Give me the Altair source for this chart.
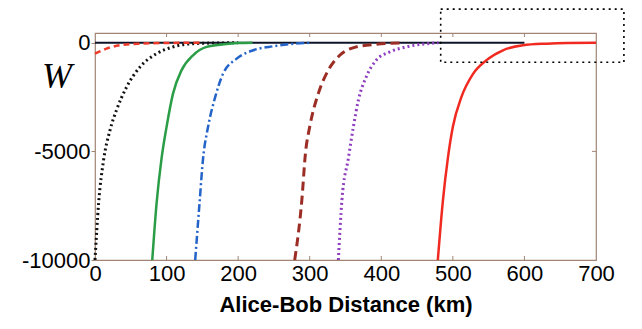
import altair as alt
import pandas as pd

# ---- data ----
rd_km = [0, 16, 35, 63, 100, 150]
rd_W = [-500, -270, -115, -40, -10, 0]

bk_km = [0, 5, 12, 21, 30, 44, 63, 86, 109, 137, 170, 200]
bk_W = [-10000, -7400, -5400, -4020, -3100, -2050, -1110, -500, -190, -40, -10, 0]

gr_km = [80, 86, 93, 100, 109, 121, 137, 156, 180, 200, 220]
gr_W = [-10000, -7400, -5320, -3870, -2340, -1260, -575, -190, -70, -15, 0]

bl_km = [140, 146, 151, 158, 168, 179, 198, 221, 249, 280, 300]
bl_W = [-10000, -7400, -5320, -3870, -2490, -1420, -730, -345, -160, -40, 0]

br_km = [279, 289, 294, 300, 312, 326, 342, 365, 393, 430]
br_W = [-10000, -7240, -5100, -3870, -2340, -1260, -575, -190, -70, 0]

pu_km = [340, 345, 354, 361, 368, 379, 393, 412, 435, 480]
pu_W = [-10000, -7240, -5320, -3870, -2640, -1570, -800, -420, -190, 0]

rs_km = [479, 486, 493, 500, 512, 528, 547, 570, 598, 631, 660, 700]
rs_W = [-10000, -7300, -5320, -3870, -2490, -1440, -800, -345, -115, -40, -10, 0]

zero_km = [0, 600]
zero_W = [0, 0]

x_ticks = [0, 100, 200, 300, 400, 500, 600, 700]
inner_ticks = [100, 200, 300, 400, 500, 600]
y_ticks = [0, -5000, -10000]

box_km = [483, 739]
box_W = [-897, 1550]

FRAME = "#a08575"

xs = alt.Scale(domain=[0, 700], nice=False, zero=False)
ys = alt.Scale(domain=[-10000, 450], nice=False, zero=False)

xenc = alt.X("km:Q", scale=xs, axis=alt.Axis(
    values=x_ticks, ticks=False, domain=False, grid=False, labelFlush=False,
    labelPadding=3, labelFontSize=22, labelFont="Liberation Sans", labelColor="black",
    title="Alice-Bob Distance (km)", titleFont="Liberation Sans", titleFontSize=22,
    titleFontWeight="bold", titleColor="black", titlePadding=10))
yenc = alt.Y("W:Q", scale=ys, axis=alt.Axis(
    values=y_ticks, tickSize=4, tickColor=FRAME, domain=False, grid=False,
    labelExpr="datum.value == 0 ? '0' : '-' + format(-datum.value, 'd')",
    labelPadding=1, labelFontSize=22, labelFont="Liberation Sans", labelColor="black",
    labelOverlap=False, title=None))


def curve(km, W, color, width, dash=None):
    df = pd.DataFrame({"km": km, "W": W})
    kw = dict(color=color, strokeWidth=width, interpolate="monotone")
    if dash:
        kw["strokeDash"] = dash
    return alt.Chart(df).mark_line(**kw).encode(x=xenc, y=yenc)


zero = curve(zero_km, zero_W, "#0d1428", 2)
layers = [
    zero,
    curve(bk_km, bk_W, "#111111", 3, [2, 3]),
    curve(gr_km, gr_W, "#2a9d46", 2.5),
    curve(bl_km, bl_W, "#2464c8", 2.5, [8, 3, 2, 3]),
    curve(br_km, br_W, "#9b2d24", 3, [9, 5]),
    curve(pu_km, pu_W, "#8e3fc0", 3, [2, 3]),
    curve(rd_km, rd_W, "#ee3a2a", 2.5, [6, 4]),
    curve(rs_km, rs_W, "#f02a20", 2.5),
]

tick_df = pd.DataFrame({"km": inner_ticks})
top_ticks = alt.Chart(tick_df).mark_rule(color=FRAME, strokeWidth=1).encode(
    x=alt.X("km:Q", scale=xs), y=alt.value(0), y2=alt.value(4))
bot_ticks = alt.Chart(tick_df).mark_rule(color=FRAME, strokeWidth=1).encode(
    x=alt.X("km:Q", scale=xs), y=alt.value(223), y2=alt.value(227))
right_tick = alt.Chart(pd.DataFrame({"W": [-5000]})).mark_rule(color=FRAME, strokeWidth=1).encode(
    y=alt.Y("W:Q", scale=ys), x=alt.value(497), x2=alt.value(501))

wlabel = alt.Chart(pd.DataFrame({"t": ["W"]})).mark_text(
    font="Liberation Serif", fontStyle="italic", fontSize=36, color="black",
    align="center", baseline="middle").encode(
    text="t:N", x=alt.value(-38), y=alt.value(44))

box = alt.Chart(pd.DataFrame({"km": [box_km[0]], "km2": [box_km[1]],
                              "W": [box_W[0]], "W2": [box_W[1]]})).mark_rect(
    fillOpacity=0, stroke="black", strokeDash=[2, 4], strokeWidth=1.6).encode(
    x=alt.X("km:Q", scale=xs), x2="km2:Q", y=alt.Y("W:Q", scale=ys), y2="W2:Q")

chart = alt.layer(*layers, top_ticks, bot_ticks, right_tick, wlabel, box).properties(
    width=501, height=227,
    padding={"left": 87, "top": 25, "right": 32, "bottom": 61},
    autosize=alt.AutoSizeParams(type="none"),
).configure_view(stroke=FRAME, strokeWidth=1.2)

chart.save("out.html", embed_options={"renderer": "svg", "actions": False})
